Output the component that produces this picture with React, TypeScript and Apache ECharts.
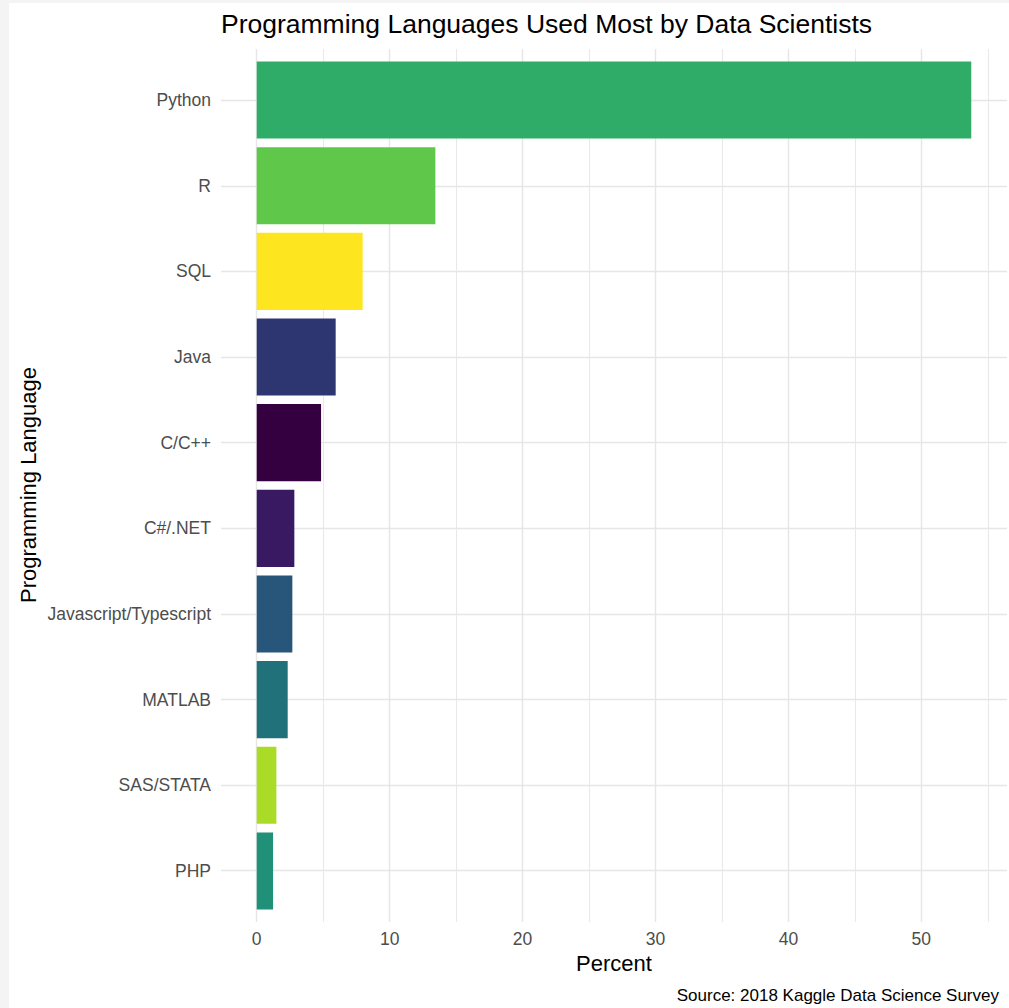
import React, { useEffect, useRef } from "react";
import * as echarts from "echarts";

const languages = [
  "Python",
  "R",
  "SQL",
  "Java",
  "C/C++",
  "C#/.NET",
  "Javascript/Typescript",
  "MATLAB",
  "SAS/STATA",
  "PHP",
];
const percents = [53.76, 13.44, 7.97, 5.94, 4.84, 2.83, 2.68, 2.33, 1.48, 1.23];
const barColors = [
  "#30AC69",
  "#5FC84A",
  "#FDE51F",
  "#2E3672",
  "#340040",
  "#391A62",
  "#27567A",
  "#21717B",
  "#AADC27",
  "#209078",
];
const majorTicks = [0, 10, 20, 30, 40, 50];
const minorTicks = [5, 15, 25, 35, 45, 55];

const titleText = "Programming Languages Used Most by Data Scientists";
const xTitle = "Percent";
const yTitle = "Programming Language";
const captionText = "Source: 2018 Kaggle Data Science Survey";

const FONT = "'Liberation Sans', Arial, Helvetica, sans-serif";

export default function App() {
  const ref = useRef<HTMLDivElement>(null);

  useEffect(() => {
    if (!ref.current) return;
    const chart = echarts.init(ref.current, null, { renderer: "svg" });
    const maxV = Math.max(...percents);
    const xMin = -0.05 * maxV;
    const xMax = maxV * 1.05;
    const n = languages.length;

    const gridLines: any[] = [];
    majorTicks.forEach((t) =>
      gridLines.push({
        xAxis: t,
        lineStyle: { color: "#e6e6e6", width: 1.4, type: "solid" },
        label: {
          show: true,
          position: "start",
          distance: 8,
          formatter: String(t),
          color: "#4d4d4d",
          fontSize: 17.5,
          fontFamily: FONT,
        },
      })
    );
    minorTicks.forEach((t) =>
      gridLines.push({
        xAxis: t,
        lineStyle: { color: "#e9e9e9", width: 1.1, type: "solid" },
        label: { show: false },
      })
    );
    languages.forEach((_, i) =>
      gridLines.push({
        yAxis: n - i,
        lineStyle: { color: "#e6e6e6", width: 1.4, type: "solid" },
        label: { show: false },
      })
    );

    chart.setOption({
      animation: false,
      backgroundColor: "#ffffff",
      grid: [
        { left: 212, right: 2, top: 46, bottom: 86, containLabel: false },
        { left: 212, right: 2, top: 54.2, bottom: 94.2, containLabel: false },
      ],
      xAxis: [
        { type: "value", gridIndex: 0, min: xMin, max: xMax, show: false },
        { type: "value", gridIndex: 1, min: xMin, max: xMax, show: false },
      ],
      yAxis: [
        { type: "value", gridIndex: 0, min: 0.4, max: n + 0.6, show: false },
        {
          type: "category",
          gridIndex: 1,
          data: languages,
          inverse: true,
          axisLine: { show: false },
          axisTick: { show: false },
          splitLine: { show: false },
          axisLabel: {
            color: "#4d4d4d",
            fontSize: 17.5,
            fontFamily: FONT,
            margin: 10,
          },
        },
      ],
      series: [
        {
          type: "line",
          xAxisIndex: 0,
          yAxisIndex: 0,
          data: [],
          silent: true,
          z: 0,
          markLine: {
            silent: true,
            z: 0,
            symbol: ["none", "none"],
            animation: false,
            data: gridLines,
          },
        },
        {
          type: "bar",
          xAxisIndex: 1,
          yAxisIndex: 1,
          barWidth: "90%",
          z: 10,
          data: percents.map((v, i) => ({
            value: v,
            itemStyle: { color: barColors[i] },
          })),
        },
      ],
      graphic: [
        {
          type: "text",
          x: 212,
          y: 21,
          style: {
            text: titleText,
            fill: "#000000",
            font: `26.5px ${FONT}`,
            textAlign: "left",
            textVerticalAlign: "middle",
          },
        },
        {
          type: "text",
          x: 605,
          y: 960,
          style: {
            text: xTitle,
            fill: "#000000",
            font: `22px ${FONT}`,
            textAlign: "center",
            textVerticalAlign: "middle",
          },
        },
        {
          type: "text",
          x: 19,
          y: 482,
          rotation: Math.PI / 2,
          style: {
            text: yTitle,
            fill: "#000000",
            font: `22px ${FONT}`,
            textAlign: "center",
            textVerticalAlign: "middle",
          },
        },
        {
          type: "text",
          x: 990,
          y: 992,
          style: {
            text: captionText,
            fill: "#000000",
            font: `17px ${FONT}`,
            textAlign: "right",
            textVerticalAlign: "middle",
          },
        },
      ],
    });
    return () => chart.dispose();
  }, []);

  return (
    <div
      style={{
        position: "fixed",
        left: 0,
        top: 0,
        width: 1009,
        height: 1008,
        background: "#f4f4f4",
      }}
    >
      <div
        ref={ref}
        style={{
          position: "absolute",
          left: 9,
          top: 3,
          width: 1000,
          height: 1005,
          background: "#ffffff",
        }}
      />
    </div>
  );
}
